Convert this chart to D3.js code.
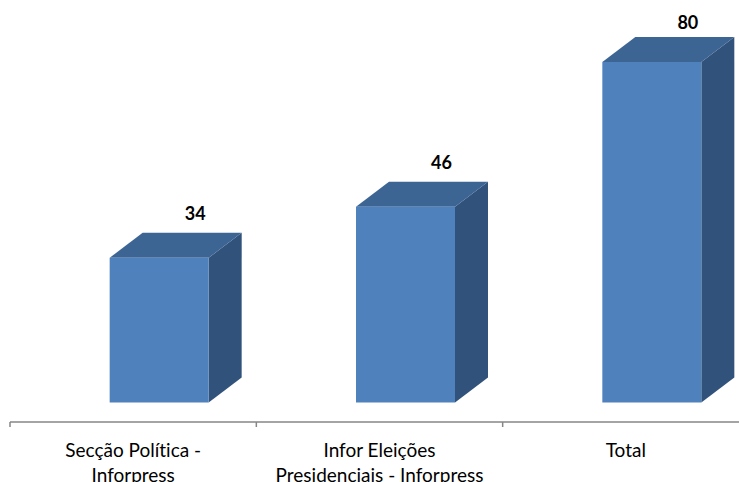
<!DOCTYPE html>
<html>
<head>
<meta charset="utf-8">
<script src="https://cdn.jsdelivr.net/npm/d3@7"></script>
<style>
  html, body { margin: 0; padding: 0; background: #fff; }
  svg { display: block; }
  text { font-variant-ligatures: none; }
</style>
</head>
<body>
<svg id="chart" width="739" height="482"></svg>
<script>
// Categories and counts
const categories = [
  ["Secção Política -", "Inforpress"],
  ["Infor Eleições", "Presidenciais - Inforpress"],
  ["Total"]
];
const categoryKeys = ["Secção Política - Inforpress", "Infor Eleições Presidenciais - Inforpress", "Total"];
const values = [34, 46, 80];

const svg = d3.select("#chart");
const W = 739, H = 482;

// 3D extrusion offsets
const depthX = 33, depthY = -25;

const x = d3.scaleBand().domain(categoryKeys).range([10, 749]);
const y = d3.scaleLinear().domain([0, 80]).range([402.5, 62]);
const barW = 99;
const shift = 26; // front faces sit right of the band centre

const colFront = "#4F81BD", colTop = "#3C6594", colSide = "#31527A";

const bars = svg.append("g").selectAll("g")
  .data(categoryKeys.map((k, i) => ({ key: k, value: values[i] })))
  .join("g");

bars.each(function (d) {
  const g = d3.select(this);
  const cx = x(d.key) + x.bandwidth() / 2 + shift;
  const x0 = cx - barW / 2, x1 = cx + barW / 2;
  const yt = y(d.value), yb = y(0);
  // side face
  g.append("polygon")
    .attr("points", [[x1, yt], [x1 + depthX, yt + depthY], [x1 + depthX, yb + depthY], [x1, yb]].join(" "))
    .attr("fill", colSide);
  // top face
  g.append("polygon")
    .attr("points", [[x0, yt], [x0 + depthX, yt + depthY], [x1 + depthX, yt + depthY], [x1, yt]].join(" "))
    .attr("fill", colTop);
  // front face
  g.append("rect")
    .attr("x", x0).attr("y", yt)
    .attr("width", barW).attr("height", yb - yt)
    .attr("fill", colFront);
  // value label
  g.append("text")
    .attr("x", cx + 36)
    .attr("y", Math.max(yt + depthY - 13, 29))
    .attr("text-anchor", "middle")
    .attr("font-family", "Lato, 'Open Sans', sans-serif")
    .attr("font-weight", "bold")
    .attr("font-size", 18)
    .attr("fill", "#000")
    .text(d.value);
});

// Category axis
const axisY = 422;
const axisG = svg.append("g").attr("stroke", "#868686").attr("stroke-width", 1.5);
axisG.append("line").attr("x1", 10).attr("x2", W).attr("y1", axisY).attr("y2", axisY);
categoryKeys.forEach(k => {
  const tx = x(k);
  axisG.append("line").attr("x1", tx).attr("x2", tx).attr("y1", axisY).attr("y2", axisY + 5);
});

const labels = svg.append("g")
  .attr("font-family", "Lato, 'Open Sans', sans-serif")
  .attr("font-size", 19)
  .attr("fill", "#000")
  .attr("text-anchor", "middle");
categoryKeys.forEach((k, i) => {
  const t = labels.append("text").attr("x", x(k) + x.bandwidth() / 2).attr("y", 457);
  categories[i].forEach((line, j) => {
    t.append("tspan").attr("x", x(k) + x.bandwidth() / 2).attr("dy", j === 0 ? 0 : 25).text(line);
  });
});
</script>
</body>
</html>
